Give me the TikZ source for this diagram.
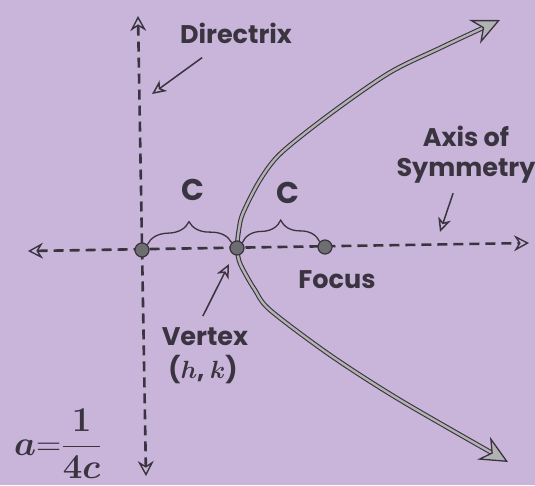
\documentclass[tikz,border=0pt]{standalone}
\usepackage{fontspec,amsmath}
\setmainfont{Poppins}
\usetikzlibrary{arrows.meta,decorations.pathreplacing}
\definecolor{lilac}{RGB}{201,181,218}
\definecolor{ink}{RGB}{58,52,64}

\begin{document}
\begin{tikzpicture}[x=1pt,y=-1pt,
 lbl/.style={text=ink,font=\fontsize{25.5}{30}\selectfont\bfseries,inner sep=0pt,align=center},
 dashline/.style={draw=ink,line width=2.6pt,dash pattern=on 10pt off 6pt,
   arrows={Stealth[open,length=15pt,width=16pt,inset=5pt,line width=1.4pt]-Stealth[open,length=15pt,width=16pt,inset=5pt,line width=1.4pt]}},
 dot/.style={circle,draw=ink,fill=gray!75!ink,line width=1.2pt,minimum size=14pt,inner sep=0pt},
 brc/.style={draw=ink,line width=1.3pt,decorate,decoration={brace,amplitude=22pt}},
 ptr/.style={draw=ink,line width=1.5pt,-{Stealth[open,length=14pt,width=13pt,inset=4pt]}},
 curve/.style={draw=ink,line width=1.1pt,double=gray!60,double distance=2.4pt,
   {Stealth[length=28pt,width=26pt,inset=9pt,fill=gray!60,line width=1.3pt]}-{Stealth[length=28pt,width=26pt,inset=9pt,fill=gray!60,line width=1.3pt]}}]
\fill[lilac] (0,0) rectangle (535,485);
\useasboundingbox (0,0) rectangle (535,485);
% directrix and axis of symmetry
\coordinate (top) at (138,16);
\coordinate (bot) at (146,476);
\coordinate (left) at (28,251);
\coordinate (right) at (529,243);
\draw[dashline] (top) -- (bot);
\draw[dashline] (left) -- (right);
% the parabola
\draw[curve] plot[smooth] coordinates {(500,20) (440,48) (389,73) (330,114) (281,153)
  (260,180) (243,213) (239,229) (237,248) (239.5,262) (246,275) (255,290) (270,310)
  (330,355) (400,400) (508,462)};
\node[dot] (dir) at (142,250) {};
\node[dot] (vtx) at (237,248) {};
\node[dot] (foc) at (325,247) {};
\draw[brc] (dir.north east) -- (vtx.north west);
\draw[brc] (vtx.north east) -- (foc.north west);
\node[lbl,font=\fontsize{30}{30}\selectfont\bfseries] (c1) at (193,190) {C};
\node[lbl,font=\fontsize{30}{30}\selectfont\bfseries] (c2) at (288,193) {C};
% labels and pointers
\node[lbl] (dlab) at (236,33) {Directrix};
\node[lbl] (alab) at (466,155) {Axis of\\Symmetry};
\node[lbl] (flab) at (337,280) {Focus};
\node[lbl] (vlab) at (205,337) {Vertex};
\node[lbl] (hk) at (203,370) {($\boldsymbol{h}$, $\boldsymbol{k}$)};
\node[text=ink,font=\fontsize{24}{24}\selectfont] (form) at (58,444)
  {\scalebox{1.4}{$\boldsymbol{a}{=}\dfrac{\boldsymbol{1}}{\boldsymbol{4c}}$}};
\coordinate (dtip) at (152,94);
\coordinate (atip) at (440,232);
\coordinate (vtip) at (229,264);
\draw[ptr,shorten <=24pt] (dlab) -- (dtip);
\draw[ptr,shorten <=10pt] (alab) -- (atip);
\draw[ptr,shorten <=13pt] ([xshift=-8pt]vlab.north) -- (vtip);
\end{tikzpicture}
\end{document}
